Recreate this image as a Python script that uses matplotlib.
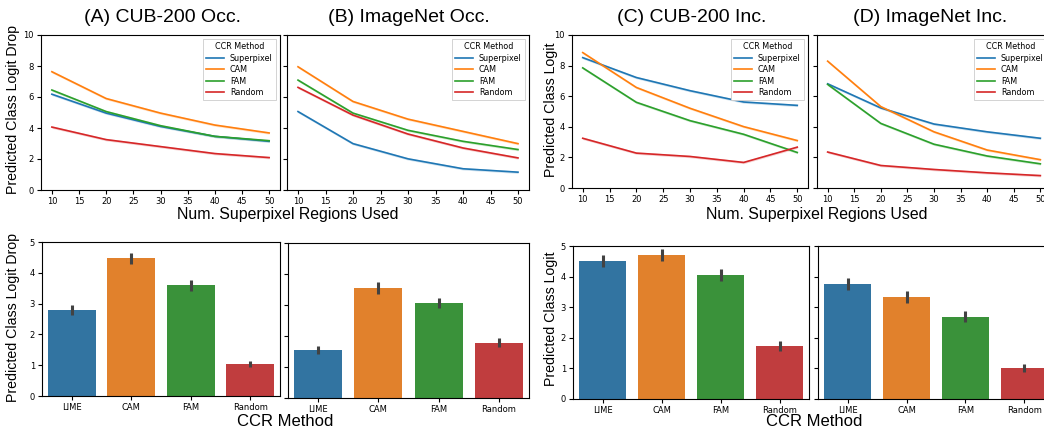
import numpy as np
import matplotlib
matplotlib.use('Agg')
import matplotlib.pyplot as plt

# Data
regions = [10, 20, 30, 40, 50]
methods = ['Superpixel', 'CAM', 'FAM', 'Random']
bar_labels = ['LIME', 'CAM', 'FAM', 'Random']

occ_cub = {
    'Superpixel': [6.18, 4.96, 4.10, 3.46, 3.14],
    'CAM': [7.63, 5.90, 4.96, 4.19, 3.68],
    'FAM': [6.45, 5.06, 4.15, 3.46, 3.18],
    'Random': [4.06, 3.25, 2.80, 2.35, 2.09],
}
occ_imagenet = {
    'Superpixel': [5.06, 2.99, 2.01, 1.37, 1.15],
    'CAM': [7.95, 5.71, 4.57, 3.78, 2.99],
    'FAM': [7.09, 4.96, 3.85, 3.14, 2.61],
    'Random': [6.62, 4.83, 3.61, 2.71, 2.07],
}
inc_cub = {
    'Superpixel': [8.52, 7.22, 6.36, 5.62, 5.40],
    'CAM': [8.85, 6.57, 5.21, 4.01, 3.10],
    'FAM': [7.85, 5.60, 4.40, 3.51, 2.32],
    'Random': [3.25, 2.28, 2.06, 1.67, 2.67],
}
inc_imagenet = {
    'Superpixel': [6.81, 5.23, 4.18, 3.67, 3.25],
    'CAM': [8.29, 5.32, 3.67, 2.48, 1.85],
    'FAM': [6.77, 4.22, 2.86, 2.09, 1.58],
    'Random': [2.35, 1.47, 1.21, 0.99, 0.81],
}

bar_occ_cub = [2.79, 4.47, 3.59, 1.04]
err_occ_cub = [0.17, 0.18, 0.18, 0.10]
bar_occ_imagenet = [1.55, 3.54, 3.06, 1.78]
err_occ_imagenet = [0.14, 0.19, 0.17, 0.15]
bar_inc_cub = [4.50, 4.70, 4.04, 1.73]
err_inc_cub = [0.20, 0.20, 0.20, 0.16]
bar_inc_imagenet = [3.77, 3.34, 2.69, 1.02]
err_inc_imagenet = [0.20, 0.19, 0.18, 0.13]

line_colors = ['#1f77b4', '#ff7f0e', '#2ca02c', '#d62728']
bar_colors = ['#3274a1', '#e1812c', '#3a923a', '#c03d3e']

W, H = 1044, 429
fig = plt.figure(figsize=(W / 100, H / 100), dpi=100)


def rect(l, t, r, b):
    return [l / W, 1 - b / H, (r - l) / W, (b - t) / H]


def line_panel(pos, data, show_y):
    ax = fig.add_axes(rect(*pos))
    for m, c in zip(methods, line_colors):
        y = np.array(data[m])
        ax.fill_between(regions, y - 0.08, y + 0.08, color=c, alpha=0.2, lw=0)
        ax.plot(regions, y, color=c, lw=1.2, label=m)
    ax.set_xlim(8, 52)
    ax.set_ylim(0, 10)
    ax.set_xticks(range(10, 51, 5))
    ax.set_yticks(range(0, 11, 2))
    ax.tick_params(labelsize=6, length=3, width=0.8, pad=2)
    if not show_y:
        ax.set_yticklabels([])
    leg = ax.legend(title='CCR Method', loc='upper right', fontsize=5.8,
                    title_fontsize=5.8, handlelength=2.2, labelspacing=0.3,
                    borderpad=0.4, framealpha=1, fancybox=False)
    leg.get_frame().set_linewidth(0.6)
    return ax


def bar_panel(pos, vals, errs, show_y):
    ax = fig.add_axes(rect(*pos))
    x = np.arange(len(bar_labels))
    ax.bar(x, vals, width=0.8, color=bar_colors)
    ax.errorbar(x, vals, yerr=errs, fmt='none', ecolor='#424242', elinewidth=2.2, capsize=0)
    ax.set_xlim(-0.5, 3.5)
    ax.set_ylim(0, 5)
    ax.set_xticks(x)
    ax.set_xticklabels(bar_labels)
    ax.set_yticks(range(0, 6))
    ax.tick_params(labelsize=6, length=3, width=0.8, pad=2)
    if not show_y:
        ax.set_yticklabels([])
    return ax


line_panel((41, 35, 280, 190), occ_cub, True)
line_panel((287, 35, 529, 190), occ_imagenet, False)
line_panel((572, 35, 808, 188), inc_cub, True)
line_panel((817, 35, 1051, 188), inc_imagenet, False)

bar_panel((42, 242, 280, 396), bar_occ_cub, err_occ_cub, True)
bar_panel((288, 243, 529, 398), bar_occ_imagenet, err_occ_imagenet, False)
bar_panel((573, 246, 809, 399), bar_inc_cub, err_inc_cub, True)
bar_panel((818, 246, 1054, 399), bar_inc_imagenet, err_inc_imagenet, False)

big = dict(family='Liberation Sans', ha='center', va='center')
fig.text(162 / W, 1 - 18 / H, '(A) CUB-200 Occ.', fontsize=14, **big)
fig.text(409 / W, 1 - 18 / H, '(B) ImageNet Occ.', fontsize=14, **big)
fig.text(692 / W, 1 - 18 / H, '(C) CUB-200 Inc.', fontsize=14, **big)
fig.text(930 / W, 1 - 18 / H, '(D) ImageNet Inc.', fontsize=14, **big)

fig.text(288 / W, 1 - 214 / H, 'Num. Superpixel Regions Used', fontsize=11.4, **big)
fig.text(817 / W, 1 - 214 / H, 'Num. Superpixel Regions Used', fontsize=11.4, **big)
fig.text(285 / W, 1 - 422 / H, 'CCR Method', fontsize=12, **big)
fig.text(814 / W, 1 - 422 / H, 'CCR Method', fontsize=12, **big)

fig.text(13 / W, 1 - 109 / H, 'Predicted Class Logit Drop', fontsize=10.2, rotation=90, **big)
fig.text(13 / W, 1 - 318 / H, 'Predicted Class Logit Drop', fontsize=10.2, rotation=90, **big)
fig.text(551 / W, 1 - 110 / H, 'Predicted Class Logit', fontsize=10.2, rotation=90, **big)
fig.text(551 / W, 1 - 319 / H, 'Predicted Class Logit', fontsize=10.2, rotation=90, **big)

fig.savefig('out.png', dpi=100)
